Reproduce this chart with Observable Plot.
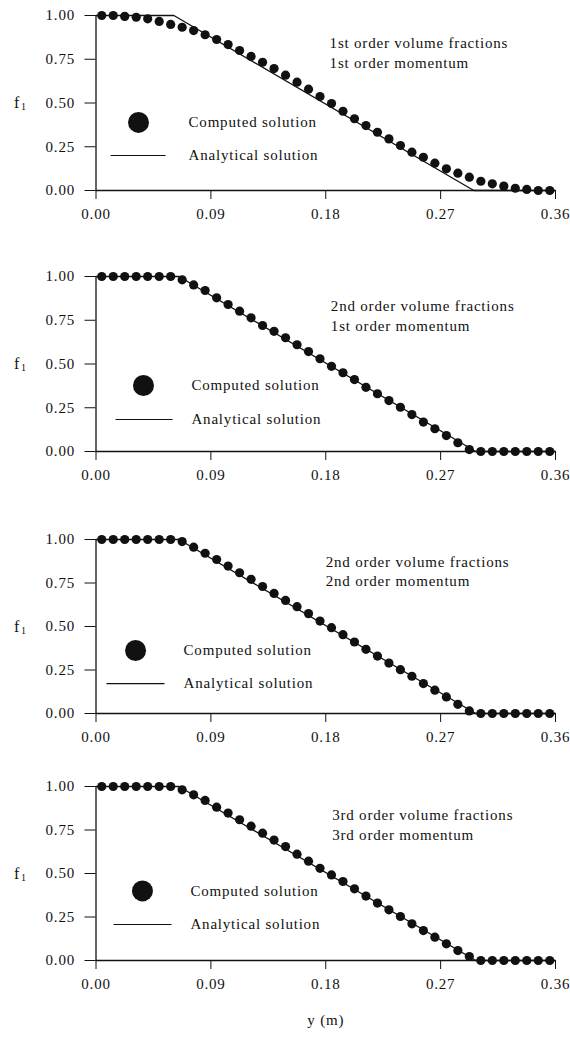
<!DOCTYPE html>
<html><head><meta charset="utf-8">
<script src="https://cdn.jsdelivr.net/npm/d3@7"></script>
<script src="https://cdn.jsdelivr.net/npm/@observablehq/plot@0.6"></script>
<style>
body{margin:0;background:#fff;}
#chart{width:570px;}
#chart svg{display:block;}
#chart svg text{letter-spacing:0.8px;}
</style></head><body><div id="chart"></div>
<script>
// ---------- data ----------
const xComputed = [0.0045,0.0135,0.0225,0.0315,0.0405,0.0495,0.0585,0.0675,0.0765,0.0855,
  0.0945,0.1035,0.1125,0.1215,0.1305,0.1395,0.1485,0.1575,0.1665,0.1755,
  0.1845,0.1935,0.2025,0.2115,0.2205,0.2295,0.2385,0.2475,0.2565,0.2655,
  0.2745,0.2835,0.2925,0.3015,0.3105,0.3195,0.3285,0.3375,0.3465,0.3555];
const f1Panel1 = [1.00,1.00,0.995,0.99,0.981,0.966,0.949,0.933,0.914,0.89,
  0.863,0.834,0.80,0.766,0.733,0.697,0.659,0.619,0.579,0.537,
  0.497,0.453,0.41,0.371,0.333,0.295,0.257,0.219,0.19,0.156,
  0.124,0.099,0.076,0.053,0.038,0.025,0.013,0.006,0.0,0.0];
const f1Panel2 = [1,1,1,1,1,1,1,0.981,0.952,0.92,
  0.878,0.84,0.802,0.764,0.72,0.687,0.65,0.61,0.571,0.53,
  0.487,0.45,0.411,0.367,0.33,0.291,0.253,0.211,0.168,0.13,
  0.091,0.05,0.011,0,0,0,0,0,0,0];
const f1Panel3 = [1,1,1,1,1,1,1,0.988,0.956,0.921,
  0.885,0.847,0.809,0.771,0.73,0.69,0.65,0.614,0.574,0.531,
  0.493,0.453,0.411,0.369,0.33,0.29,0.252,0.214,0.172,0.134,
  0.095,0.053,0.015,0,0,0,0,0,0,0];
const f1Panel4 = [1,1,1,1,1,1,1,0.981,0.952,0.92,
  0.881,0.847,0.809,0.772,0.732,0.692,0.655,0.611,0.571,0.53,
  0.492,0.454,0.412,0.37,0.33,0.291,0.253,0.211,0.172,0.134,
  0.096,0.057,0.023,0,0,0,0,0,0,0];
// analytical solution as drawn in each panel
const xAnalyticalPanel1 = [0, 0.061, 0.296, 0.36];
const xAnalyticalPanels234 = [0, 0.065, 0.2975, 0.36];
const f1Analytical = [1, 1, 0, 0];
const panelTitles = [
  ["1st order volume fractions", "1st order momentum"],
  ["2nd order volume fractions", "1st order momentum"],
  ["2nd order volume fractions", "2nd order momentum"],
  ["3rd order volume fractions", "3rd order momentum"]
];
const legendLabels = ["Computed solution", "Analytical solution"];
const xTicks = [0, 0.09, 0.18, 0.27, 0.36];
const xMinorTicks = [0.03, 0.06, 0.12, 0.15, 0.21, 0.24, 0.30, 0.33];
const yTicks = [0, 0.25, 0.5, 0.75, 1];
const yMinorTicks = [0.05,0.1,0.15,0.2,0.3,0.35,0.4,0.45,0.55,0.6,0.65,0.7,0.8,0.85,0.9,0.95];
const yLabel = "f";
const yLabelSub = "1";
const xLabel = "y (m)";

// ---------- layout (per panel) ----------
const layout = [
  {height:261, mt:15, mb:71, dot:[0.0333,0.389], tx:0.0725, line:[0.0114,0.0545,0.200], titleX:0.183, titleY:[0.84,0.726]},
  {height:261, mt:15, mb:71, dot:[0.0372,0.377], tx:0.0748, line:[0.0153,0.0600,0.183], titleX:0.184, titleY:[0.829,0.714]},
  {height:249, mt:17, mb:58, dot:[0.0310,0.362], tx:0.0686, line:[0.0082,0.0537,0.172], titleX:0.180, titleY:[0.868,0.759]},
  {height:267, mt:15, mb:78, dot:[0.0364,0.400], tx:0.0740, line:[0.0137,0.0592,0.207], titleX:0.185, titleY:[0.833,0.718]}
];
const series = [f1Panel1, f1Panel2, f1Panel3, f1Panel4];
const analyticalX = [xAnalyticalPanel1, xAnalyticalPanels234, xAnalyticalPanels234, xAnalyticalPanels234];
const fmt = d3.format(".2f");
const ink = "#111";
const hasAxisMarks = typeof Plot.axisY === "function" && typeof Plot.axisTickY === "function";

series.forEach((vals, p) => {
  const L = layout[p];
  const computed = xComputed.map((x, i) => ({x, y: vals[i]}));
  const analytical = analyticalX[p].map((x, i) => ({x, y: f1Analytical[i]}));
  const marks = [
    Plot.ruleX([0], {stroke: ink, strokeWidth: 1.3}),
    Plot.ruleY([0], {stroke: ink, strokeWidth: 1.3}),
    Plot.line(analytical, {x: "x", y: "y", stroke: ink, strokeWidth: 1.3}),
    Plot.dot(computed, {x: "x", y: "y", r: 4.6, fill: ink, stroke: "none"}),
    // legend
    Plot.dot([{x: L.dot[0], y: L.dot[1]}], {x: "x", y: "y", r: 10.5, fill: ink, stroke: "none"}),
    Plot.link([{x1: L.line[0], x2: L.line[1], y: L.line[2]}], {x1: "x1", x2: "x2", y1: "y", y2: "y", stroke: ink, strokeWidth: 1.2}),
    Plot.text([{x: L.tx, y: L.dot[1], t: legendLabels[0]}, {x: L.tx, y: L.line[2], t: legendLabels[1]}],
      {x: "x", y: "y", text: "t", textAnchor: "start", fill: ink, fontSize: 15}),
    // panel titles
    Plot.text(panelTitles[p].map((t, i) => ({x: L.titleX, y: L.titleY[i], t})),
      {x: "x", y: "y", text: "t", textAnchor: "start", fill: ink, fontSize: 15}),
    // y label f1
    Plot.text([0.5], {y: d => d, frameAnchor: "left", dx: -79, text: () => yLabel, fill: ink, fontSize: 16, textAnchor: "middle"}),
    Plot.text([0.5], {y: d => d, frameAnchor: "left", dx: -72, dy: 4, text: () => yLabelSub, fill: ink, fontSize: 10, textAnchor: "middle"})
  ];
  if (p === 3) {
    marks.push(Plot.text([xLabel], {frameAnchor: "bottom", dy: 60, lineAnchor: "middle", text: d => d, fill: ink, fontSize: 15}));
  }
  if (hasAxisMarks) {
    marks.push(
      Plot.axisY(yTicks, {anchor: "left", tickSize: 11, tickPadding: 10, tickFormat: fmt, label: null, stroke: ink, strokeWidth: 1.2, fill: ink}),
      Plot.axisTickY(yMinorTicks, {anchor: "left", tickSize: 4, stroke: ink, strokeWidth: 1}),
      Plot.axisX(xTicks, {anchor: "bottom", tickSize: 9, tickPadding: 9, tickFormat: fmt, label: null, stroke: ink, strokeWidth: 1.2, fill: ink}),
      Plot.axisTickX(xMinorTicks, {anchor: "bottom", tickSize: 5, stroke: ink, strokeWidth: 1})
    );
  }
  const opts = {
    width: 570, height: L.height,
    marginLeft: 95.5, marginRight: 15, marginTop: L.mt, marginBottom: L.mb,
    style: {fontFamily: "'Liberation Serif', 'DejaVu Serif', serif", fontSize: "15px", color: ink, background: "#fff"},
    x: {domain: [0, 0.36]},
    y: {domain: [0, 1]},
    marks
  };
  if (!hasAxisMarks) {
    opts.x = {domain: [0, 0.36], ticks: xTicks, tickFormat: fmt, tickSize: 9, tickPadding: 9, label: null};
    opts.y = {domain: [0, 1], ticks: yTicks, tickFormat: fmt, tickSize: 11, tickPadding: 10, label: null};
  }
  document.getElementById("chart").appendChild(Plot.plot(opts));
});
</script></body></html>
